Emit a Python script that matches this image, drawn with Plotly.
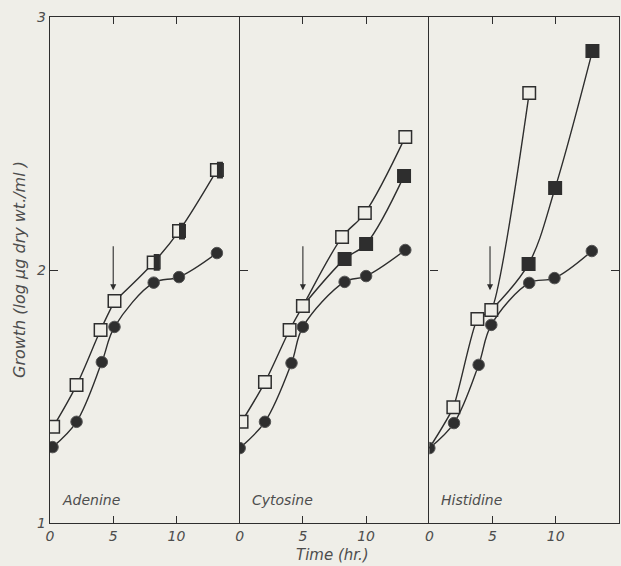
import plotly.graph_objects as go

# ---- data (time in hr, growth in log ug dry wt./ml) ----
panels = ["Adenine", "Cytosine", "Histidine"]

# control cultures (filled circles)
ade_ctrl_t = [0.2, 2.1, 4.1, 5.1, 8.2, 10.2, 13.2]
ade_ctrl_v = [1.30, 1.40, 1.636, 1.775, 1.95, 1.972, 2.067]
cyt_ctrl_t = [0.0, 2.0, 4.1, 5.0, 8.3, 10.0, 13.1]
cyt_ctrl_v = [1.296, 1.40, 1.632, 1.775, 1.953, 1.976, 2.079]
his_ctrl_t = [0.0, 1.95, 3.9, 4.9, 7.9, 9.9, 12.85]
his_ctrl_v = [1.296, 1.395, 1.625, 1.783, 1.949, 1.968, 2.075]

# supplemented cultures (open squares)
ade_open_t = [0.25, 2.1, 4.0, 5.1]
ade_open_v = [1.38, 1.545, 1.763, 1.877]
cyt_open_t = [0.15, 2.0, 3.95, 5.0, 8.1, 9.9, 13.1]
cyt_open_v = [1.40, 1.557, 1.763, 1.858, 2.13, 2.225, 2.526]
his_open_t = [0.0, 1.9, 3.8, 4.9, 7.9]
his_open_v = [1.296, 1.458, 1.806, 1.842, 2.70]
his_open_shown = [False, True, True, True, True]

# after addition at the arrow (filled / half-filled squares)
ade_add_t = [8.2, 10.2, 13.2]
ade_add_v = [2.03, 2.154, 2.395]
cyt_add_t = [8.3, 10.0, 13.0]
cyt_add_v = [2.043, 2.103, 2.372]
his_add_t = [7.85, 9.95, 12.9]
his_add_v = [2.024, 2.324, 2.866]

arrow_t = [5.0, 5.0, 4.8]
arrow_top = 2.1
arrow_tip = 1.92

x_tickvals = [[0, 5, 10], [0, 5, 10], [0, 5, 10, 15]]
y_tickvals = [1, 2, 3]

# ---- styling ----
BG = "#efeee8"
INK = "#2e2e2e"
TXT = "#4d4d4d"
FONT = "DejaVu Sans"

fig = go.Figure()

ctrl = [(ade_ctrl_t, ade_ctrl_v), (cyt_ctrl_t, cyt_ctrl_v), (his_ctrl_t, his_ctrl_v)]
opn = [(ade_open_t, ade_open_v, [True] * 4),
       (cyt_open_t, cyt_open_v, [True] * 7),
       (his_open_t, his_open_v, his_open_shown)]
add = [(ade_add_t, ade_add_v), (cyt_add_t, cyt_add_v), (his_add_t, his_add_v)]
branch_idx = [3, 3, 3]  # open-square point at which the addition branch starts
open_smooth = [1.0, 1.0, 0.55]

for i in range(3):
    xa = "x" if i == 0 else f"x{i+1}"
    ya = "y" if i == 0 else f"y{i+1}"
    ot, ov, oshow = opn[i]
    at, av = add[i]
    ct, cv = ctrl[i]
    b = branch_idx[i]

    # curves
    line = dict(color=INK, width=1.4, shape="spline", smoothing=1.0)
    fig.add_trace(go.Scatter(x=ct, y=cv, mode="lines", line=line, xaxis=xa, yaxis=ya))
    fig.add_trace(go.Scatter(x=ot, y=ov, mode="lines", xaxis=xa, yaxis=ya,
                             line=dict(line, smoothing=open_smooth[i])))
    fig.add_trace(go.Scatter(x=[ot[b]] + at, y=[ov[b]] + av, mode="lines",
                             line=line, xaxis=xa, yaxis=ya))

    # open squares
    fig.add_trace(go.Scatter(
        x=[t for t, s in zip(ot, oshow) if s], y=[v for v, s in zip(ov, oshow) if s],
        mode="markers", xaxis=xa, yaxis=ya,
        marker=dict(symbol="square", size=12.5, color=BG, line=dict(color=INK, width=1.5))))

    if i == 0:
        # half-filled squares: open square with a dark right half
        fig.add_trace(go.Scatter(
            x=at, y=av, mode="markers", xaxis=xa, yaxis=ya,
            marker=dict(symbol="square", size=12.5, color=BG, line=dict(color=INK, width=1.5))))
        fig.add_trace(go.Scatter(
            x=[t + 0.24 for t in at], y=av, mode="markers", xaxis=xa, yaxis=ya,
            marker=dict(symbol="line-ns", size=12, line=dict(color=INK, width=6))))
    else:
        fig.add_trace(go.Scatter(
            x=at, y=av, mode="markers", xaxis=xa, yaxis=ya,
            marker=dict(symbol="square", size=12.5, color=INK, line=dict(color=INK, width=1.5))))

    # control circles
    fig.add_trace(go.Scatter(
        x=ct, y=cv, mode="markers", xaxis=xa, yaxis=ya,
        marker=dict(symbol="circle", size=11.5, color=INK, line=dict(color="#555", width=1))))

    # arrow marking the addition
    fig.add_annotation(x=arrow_t[i], y=arrow_tip, ax=arrow_t[i], ay=arrow_top,
                       xref=xa, yref=ya, axref=xa, ayref=ya, text="", showarrow=True,
                       arrowhead=2, arrowsize=1.1, arrowwidth=1.1, arrowcolor=INK)

    # panel label
    fig.add_annotation(x=0.8, y=1.09, xref=xa, yref=ya, text=panels[i], showarrow=False,
                       xanchor="left", yanchor="middle",
                       font=dict(family=FONT, size=14, color=TXT, style="italic"))

    d = [i / 3, (i + 1) / 3]
    axcommon = dict(showline=True, linecolor=INK, linewidth=1.4,
                    ticks="inside", tickcolor=INK, tickwidth=1.3, showgrid=False,
                    zeroline=False)
    fig.layout[f"xaxis{'' if i == 0 else i+1}"] = dict(
        domain=d, anchor=ya, range=[0, 15], tickvals=x_tickvals[i], ticklen=7,
        mirror="ticks",
        tickfont=dict(family=FONT, size=14, color=TXT, style="italic"), **axcommon)
    # shared borders are drawn once, by the left edge of the next panel
    fig.layout[f"yaxis{'' if i == 0 else i+1}"] = dict(
        domain=[0, 1], anchor=xa, range=[1, 3], tickvals=y_tickvals, ticklen=8,
        showticklabels=(i == 0), mirror=("ticks" if i == 2 else False),
        tickfont=dict(family=FONT, size=14, color=TXT, style="italic"), **axcommon)

fig.add_annotation(x=(332 - 50) / 569, y=-(555 - 523) / 506, xref="paper", yref="paper",
                   text="Time (hr.)", showarrow=False, xanchor="center", yanchor="middle",
                   font=dict(family=FONT, size=15, color=TXT, style="italic"))
fig.add_annotation(x=(19 - 50) / 569, y=(523 - 270) / 506, xref="paper", yref="paper",
                   text="Growth (log \u03bcg dry wt./ml )", textangle=-90, showarrow=False,
                   xanchor="center", yanchor="middle",
                   font=dict(family=FONT, size=16, color=TXT, style="italic"))

fig.update_layout(width=621, height=566, showlegend=False,
                  margin=dict(l=50, r=2, t=17, b=43),
                  paper_bgcolor=BG, plot_bgcolor=BG)

fig.write_html("out.html")
